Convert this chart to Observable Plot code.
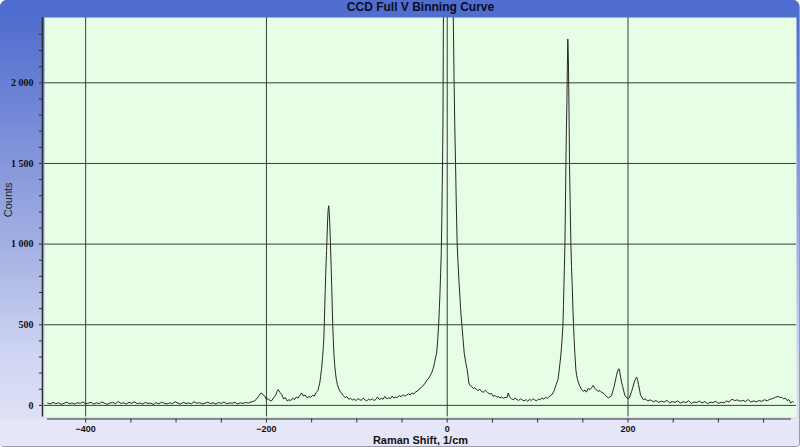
<!DOCTYPE html>
<html><head><meta charset="utf-8">
<script src="https://cdn.jsdelivr.net/npm/d3@7"></script>
<script src="https://cdn.jsdelivr.net/npm/@observablehq/plot@0.6"></script>
<style>
html,body{margin:0;padding:0;background:#ffffff;}
#wrap{position:relative;width:800px;height:447px;overflow:hidden;box-sizing:border-box;border-radius:7px 7px 4px 4px;border-right:1px solid #9a9aaa;border-bottom:1px solid #9a9aaa;
 background:linear-gradient(to bottom,#4a68cc 0%,#7287d6 25%,#a3b0e2 55%,#d0d5f2 80%,#e6e6f8 100%);}
#title{height:17px;line-height:16px;background:#4f6ecf;font:bold 12px "Liberation Sans",Arial,sans-serif;color:#0c0c24;text-align:center;padding-left:42px;box-sizing:border-box;}
#bottom{position:absolute;left:0;top:419px;width:800px;height:28px;background:#e5e6f7;}
#chart{position:absolute;left:0;top:17px;}
</style></head>
<body>
<div id="wrap">
  <div id="title">CCD Full V Binning Curve</div>
  <div id="bottom"></div>
  <div id="chart"></div>
</div>
<script>
// Raman spectrum: [shift (1/cm), counts]
const spectrum = [
[-442,14],[-439,9],[-436,18],[-433,11],[-430,16],[-427,7],[-424,13],[-421,20],[-418,10],[-415,15],
[-412,8],[-409,17],[-406,12],[-403,22],[-400,9],[-397,14],[-394,19],[-391,8],[-388,16],[-385,11],
[-382,21],[-379,13],[-376,7],[-373,15],[-370,18],[-367,10],[-364,24],[-361,12],[-358,16],[-355,9],
[-352,19],[-349,13],[-346,21],[-343,11],[-340,15],[-337,8],[-334,18],[-331,12],[-328,14],[-325,6],
[-322,17],[-319,10],[-316,20],[-313,13],[-310,9],[-307,16],[-304,11],[-301,22],[-298,14],[-295,8],
[-292,19],[-289,12],[-286,15],[-283,10],[-280,23],[-277,13],[-274,17],[-271,9],[-268,14],[-265,20],
[-262,11],[-259,16],[-256,8],[-253,18],[-250,12],[-247,21],[-244,10],[-241,15],[-238,13],[-235,19],
[-232,9],[-229,16],[-226,12],[-223,18],[-220,14],[-217,22],
[-214,25],[-211,38],[-208,62],[-206,77],[-204,68],[-202,58],[-200,36],[-198,42],[-196,28],[-194,30],
[-192,48],[-190,62],[-188,88],[-187,97],[-185,80],[-183,66],[-181,40],[-179,48],[-177,27],[-175,35],
[-173,30],[-171,44],[-169,36],[-167,52],[-165,45],[-163,62],[-161,77],[-159,58],[-157,64],[-155,46],
[-153,55],[-151,50],[-149,62],[-147,58],[-145,80],[-143,92],[-142,118],[-141,140],[-140,180],[-139,230],
[-138,290],[-137,370],[-136.5,420],[-136,500],[-135.5,610],[-135,700],[-134.4,820],[-133.5,960],[-132.9,1050],[-132.3,1150],
[-131.8,1210],[-131.1,1238],[-130.4,1190],[-129.8,1100],[-129.2,1000],[-128.5,870],[-127.8,740],[-127.2,610],[-126.7,500],[-126,400],
[-125.2,304],[-124.3,240],[-123.4,190],[-122.5,155],[-121.5,128],[-120,105],[-118.6,87],[-117,76],[-115,62],[-113,48],
[-111,55],[-109,38],
[-107,44],[-105,33],[-103,40],[-101,29],[-99,42],[-97,36],[-95,31],[-93,45],[-91,34],[-89,28],
[-87,39],[-85,33],[-83,41],[-81,30],[-79,37],[-77,52],[-75,35],[-73,44],[-71,38],[-69,55],
[-67,40],[-65,47],[-63,42],[-61,58],[-59,45],[-57,52],[-55,48],[-53,61],[-51,53],[-49,66],
[-47,58],[-45,63],[-43,72],[-41,65],[-39,78],[-37,70],[-35,84],[-33,88],[-31,102],[-29,110],
[-27,120],[-25,134],[-23,152],[-21,165],[-19,182],[-17,205],[-15.4,231],[-14,265],[-12.8,300],[-11.7,324],
[-10.5,410],[-9.5,500],[-8.7,600],[-8,700],[-7.3,820],[-6.6,944],[-6,1150],[-5.5,1356],[-5,1600],[-4.7,1770],
[-4.4,2200],[-4,2800],[-3,3600],[-1.5,4200],[0.5,4400],[2.5,4200],[4,3700],[5.5,2900],[6.6,2450],[7.5,2050],
[8.3,1750],[9.2,1500],[10,1250],[11,1000],[12,880],[13,770],[14,676],[15,580],[16.2,500],[17.5,410],
[18.8,324],[20.5,265],[22.1,221],[23,180],[23.9,139],[25,125],[26.9,118],[29,104],[30.5,110],[32.4,97],
[34,92],[36,100],[38,86],[40,82],[42,93],[43.5,87],[45,78],[47,70],[49,74],[50.9,56],
[53,62],[55,50],[57,55],[58.3,46],[60,52],[62,44],[64,50],[66,48],[67.5,77],[69,52],
[71,42],[73,35],[75,44],[77,38],[79,30],[81,41],[83,34],[85,28],[87,36],[89,25],
[91,38],[93,30],[95,42],[97,33],[99,28],[101,40],[103,35],[105,46],[107,38],[109,50],
[111,44],[113,56],[115,62],[117,78],[118.5,92],[119.5,112],[120.5,128],[121.5,145],[122.5,160],[123.5,200],
[124.5,250],[125.5,300],[126.5,366],[127.3,430],[128,500],[128.6,620],[129.1,737],[129.7,870],[130.2,1000],[130.8,1250],
[131.3,1500],[131.8,1700],[132.4,1874],[132.9,2100],[133.4,2271],[133.8,2200],[134.2,2080],[134.8,1800],[135.3,1500],[136,1250],
[136.8,1000],[137.5,860],[138.3,737],[139,610],[139.7,500],[140.4,410],[141.2,324],[142.3,221],[143.2,185],[144.2,159],
[145.5,135],[146.8,118],[148.5,100],[150.5,87],[152.5,95],[154,82],[156,105],[158,98],[160,112],[161.5,124],
[163,108],[165,96],[167,87],[169,92],[171,80],[172.6,77],[174,68],[176,58],[178.1,46],[180,52],
[181.8,60],[183,85],[184.3,110],[185.5,139],[186.5,165],[187.4,190],[188.5,212],[190,227],[191,205],[191.8,175],
[193,140],[194,118],[195.3,88],[196.6,62],[198,52],[199,45],[200.3,40],[201.5,48],[203,70],[204,87],
[205.3,110],[206.6,139],[208,160],[209.5,176],[210.6,155],[211.7,128],[212.8,95],[213.9,62],[215.4,50],[216.9,35],
[219,40],[222,28],[225,34],[228,22],[231,30],[234,18],[237,26],[240,20],[243,31],[246,16],
[249,24],[252,19],[255,28],[258,14],[261,23],[264,17],[267,29],[270,12],[273,21],[276,18],
[279,26],[282,15],[285,24],[288,11],[291,20],[294,17],[297,25],[300,13],[303,19],[306,16],
[309,27],[312,22],[315,38],[318,30],[321,34],[324,26],[327,31],[330,24],[333,36],[336,20],
[339,28],[342,22],[345,30],[348,25],[351,35],[354,28],[357,38],[360,42],[363,50],[366,56],
[368,48],[370,52],[372,40],[374,45],[376,30],[378,36],[380,15],[382,24],[383,20]
];

const xDomain = [-445.6, 386.4];
const yDomain = [-72, 2405];
const xMajor = [-400, -200, 0, 200];
const xMinor = [-350, -300, -250, -150, -100, -50, 50, 100, 150, 250, 300, 350];
const yMajor = [0, 500, 1000, 1500, 2000];
const yMinor = [100, 200, 300, 400, 600, 700, 800, 900, 1100, 1200, 1300, 1400, 1600, 1700, 1800, 1900, 2100, 2200, 2300];
const xTitle = "Raman Shift, 1/cm";
const yTitle = "Counts";

const axisColor = "#2e2e2e";
const chart = Plot.plot({
  width: 800,
  height: 430,
  marginLeft: 44,
  marginRight: 3,
  marginTop: 0,
  marginBottom: 30,
  style: {background: "transparent", overflow: "visible"},
  x: {domain: xDomain, axis: null},
  y: {domain: yDomain, axis: null},
  marks: [
    Plot.frame({fill: "#e6fde6", stroke: null}),
    Plot.ruleX(xMajor, {stroke: "#3a3a3a", strokeWidth: 1, strokeOpacity: 1}),
    Plot.ruleY(yMajor, {stroke: "#3a3a3a", strokeWidth: 1, strokeOpacity: 1}),
    Plot.line(spectrum, {x: d => d[0], y: d => d[1], stroke: "#262626", strokeWidth: 1, clip: true}),
    // x axis (offset below plot area)
    Plot.ruleY([yDomain[0]], {dy: 2, insetLeft: 3, insetRight: 5, stroke: axisColor, strokeOpacity: 1}),
    Plot.axisX(xMinor, {anchor: "bottom", tickSize: 4, dy: 2, text: null, stroke: axisColor, strokeOpacity: 1}),
    Plot.axisX(xMajor, {anchor: "bottom", tickSize: 4, tickPadding: 3, dy: 2, stroke: axisColor, strokeOpacity: 1,
      fontFamily: "Liberation Sans, Arial, sans-serif", fontWeight: "bold", fontSize: 9, fill: "#111", label: null}),
    // y axis
    Plot.ruleX([xDomain[0]], {dx: -2, stroke: axisColor, strokeOpacity: 1, strokeWidth: 1.5}),
    Plot.axisY(yMinor, {anchor: "left", tickSize: 3, dx: -2, text: null, stroke: axisColor, strokeOpacity: 1}),
    Plot.axisY(yMajor, {anchor: "left", tickSize: 3, tickPadding: 6, dx: -2, stroke: axisColor, strokeOpacity: 1,
      tickFormat: d => d3.format(",")(d).replace(/,/g, " "),
      fontFamily: "Liberation Serif, serif", fontWeight: "bold", fontSize: 10, fill: "#111", label: null}),
    Plot.text([xTitle], {frameAnchor: "bottom", dy: 24, lineAnchor: "middle", fontFamily: "Liberation Sans, Arial, sans-serif", fontWeight: "bold", fontSize: 11, fill: "#111"}),
    Plot.text([yTitle], {frameAnchor: "left", dx: -36, rotate: -90, lineAnchor: "middle", fontFamily: "Liberation Sans, Arial, sans-serif", fontSize: 11, fill: "#222"})
  ]
});
document.getElementById("chart").appendChild(chart);
</script>
</body></html>
